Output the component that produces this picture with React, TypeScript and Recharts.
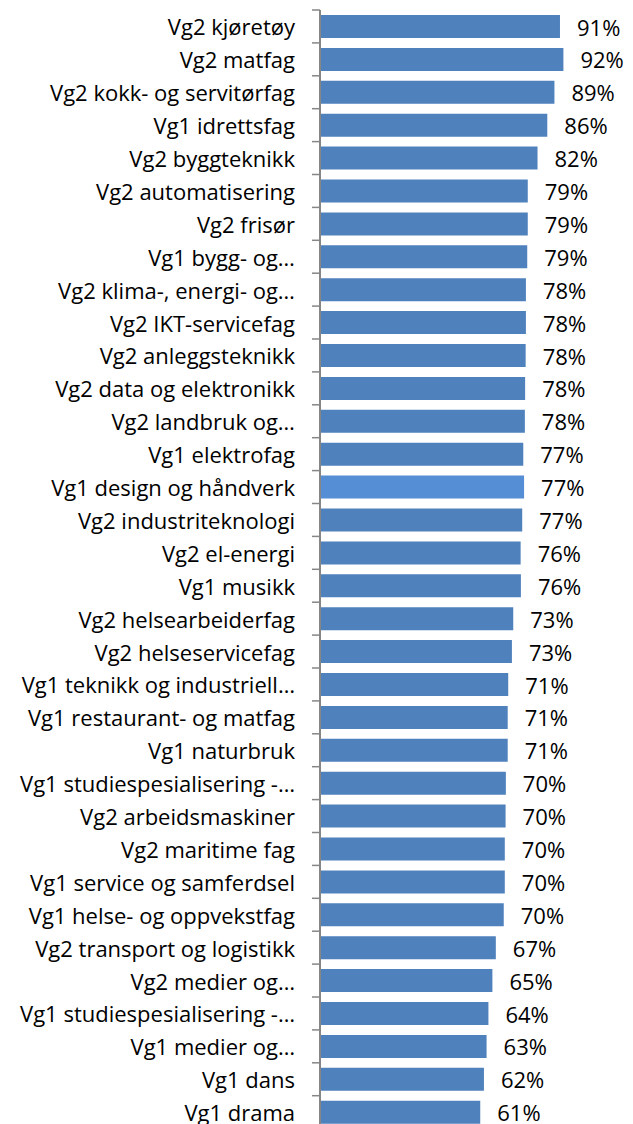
import React from "react";
import { BarChart, Bar, XAxis, YAxis, LabelList, Cell } from "recharts";

const categories = [
  "Vg2 kjøretøy",
  "Vg2 matfag",
  "Vg2 kokk- og servitørfag",
  "Vg1 idrettsfag",
  "Vg2 byggteknikk",
  "Vg2 automatisering",
  "Vg2 frisør",
  "Vg1 bygg- og…",
  "Vg2 klima-, energi- og…",
  "Vg2 IKT-servicefag",
  "Vg2 anleggsteknikk",
  "Vg2 data og elektronikk",
  "Vg2 landbruk og…",
  "Vg1 elektrofag",
  "Vg1 design og håndverk",
  "Vg2 industriteknologi",
  "Vg2 el-energi",
  "Vg1 musikk",
  "Vg2 helsearbeiderfag",
  "Vg2 helseservicefag",
  "Vg1 teknikk og industriell…",
  "Vg1 restaurant- og matfag",
  "Vg1 naturbruk",
  "Vg1 studiespesialisering -…",
  "Vg2 arbeidsmaskiner",
  "Vg2 maritime fag",
  "Vg1 service og samferdsel",
  "Vg1 helse- og oppvekstfag",
  "Vg2 transport og logistikk",
  "Vg2 medier og…",
  "Vg1 studiespesialisering -…",
  "Vg1 medier og…",
  "Vg1 dans",
  "Vg1 drama",
];

const values = [
  90.9, 92.2, 88.8, 86.1, 82.4, 78.7, 78.7, 78.5, 78.0, 78.0, 77.9, 77.7, 77.6,
  77.0, 77.3, 76.6, 76.0, 76.1, 73.2, 72.7, 71.3, 71.1, 71.1, 70.4, 70.3, 70.0,
  70.0, 69.6, 66.6, 65.3, 63.8, 63.1, 62.1, 60.7,
];

const highlighted = "Vg1 design og håndverk";

const data = categories.map((name, i) => ({ name, value: values[i] }));

const FONT = "'Open Sans', sans-serif";
const FONT_SIZE = 22;
const CHART_W = 633;
const CHART_H = 1130;
const TOP = 10;
const PLOT_H = 1118.6;
const AXIS_X = 320;
const BAND = PLOT_H / categories.length;

function CategoryTick(props: any) {
  const { y, payload, index } = props;
  const isLast = index === categories.length - 1;
  return (
    <g>
      <line x1={AXIS_X - 8} x2={AXIS_X} y1={y - BAND / 2} y2={y - BAND / 2} stroke="#868686" strokeWidth={1.5} />
      {isLast && (
        <line x1={AXIS_X - 8} x2={AXIS_X} y1={y + BAND / 2} y2={y + BAND / 2} stroke="#868686" strokeWidth={1.5} />
      )}
      <text
        x={AXIS_X - 25}
        y={y}
        textAnchor="end"
        dominantBaseline="central"
        fontFamily={FONT}
        fontSize={FONT_SIZE}
        fill="#000"
      >
        {payload.value}
      </text>
    </g>
  );
}

function ValueLabel(props: any) {
  const { x, y, width, height, value } = props;
  return (
    <text
      x={x + width + 17}
      y={y + height / 2}
      textAnchor="start"
      dominantBaseline="central"
      fontFamily={FONT}
      fontSize={FONT_SIZE}
      fill="#000"
    >
      {`${Math.round(Number(value))}%`}
    </text>
  );
}

export default function App() {
  return (
    <div style={{ position: "absolute", left: 0, top: 0, width: 633, height: 1124, overflow: "hidden", background: "#fff" }}>
      <BarChart
        width={CHART_W}
        height={CHART_H}
        data={data}
        layout="vertical"
        margin={{ top: TOP, right: 49, bottom: CHART_H - TOP - PLOT_H, left: 0 }}
      >
        <XAxis type="number" domain={[0, 100]} hide />
        <YAxis
          type="category"
          dataKey="name"
          width={AXIS_X}
          interval={0}
          tickLine={false}
          axisLine={{ stroke: "#868686", strokeWidth: 2 }}
          tick={<CategoryTick />}
        />
        <Bar dataKey="value" barSize={23} isAnimationActive={false} fill="#4F81BD">
          {data.map((d) => (
            <Cell key={d.name} fill={d.name === highlighted ? "#558ED5" : "#4F81BD"} />
          ))}
          <LabelList dataKey="value" content={<ValueLabel />} />
        </Bar>
      </BarChart>
    </div>
  );
}
